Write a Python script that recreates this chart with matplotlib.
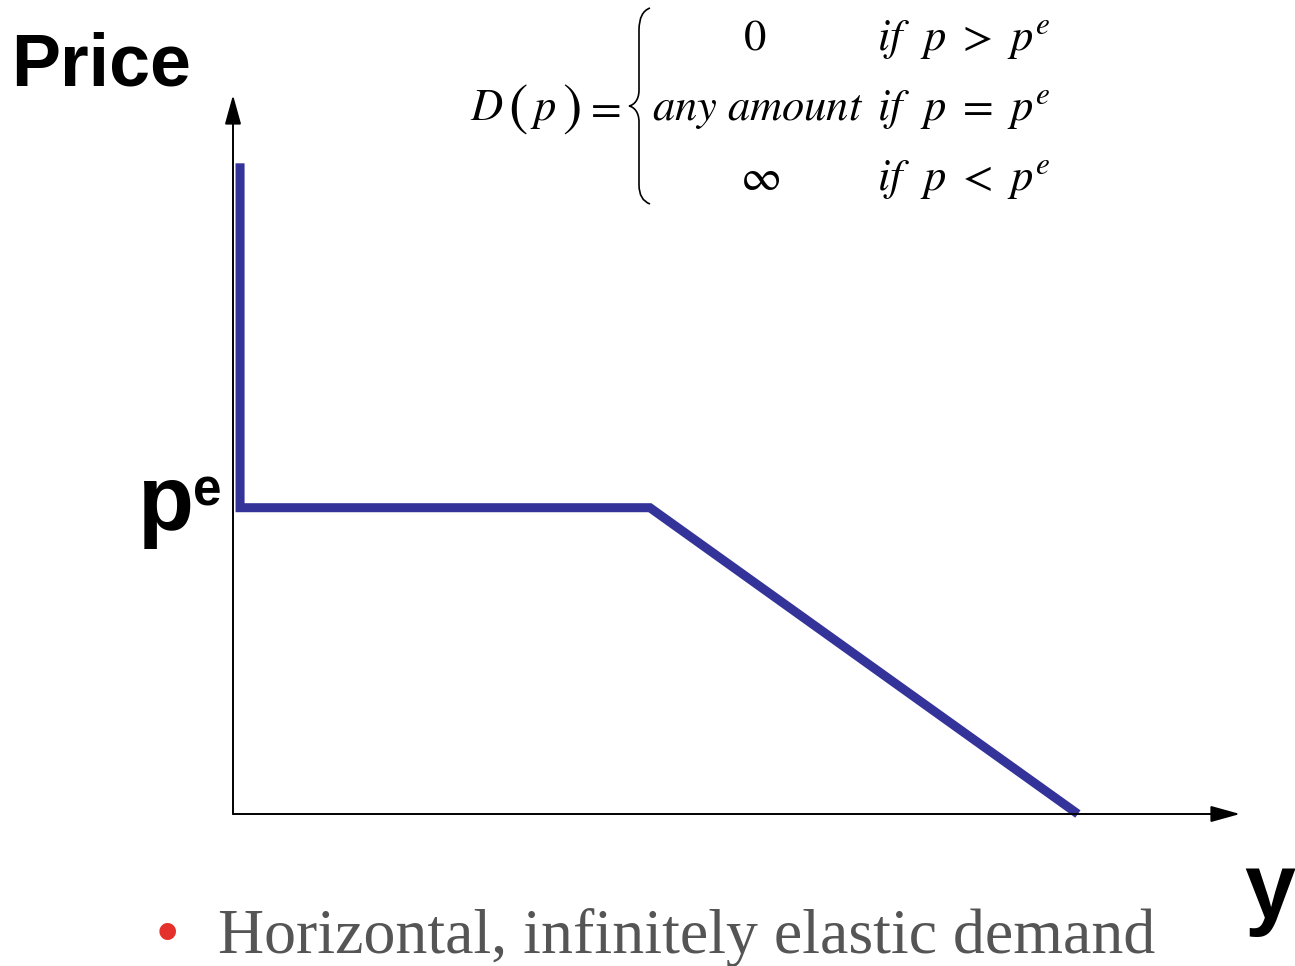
import matplotlib
matplotlib.use("Agg")
import matplotlib.pyplot as plt
from matplotlib.path import Path
from matplotlib.patches import PathPatch

# ---- data (in axis units, 0..100) ----
curve_x = [0.7, 0.7, 41.4, 83.9]
curve_y = [90.5, 42.6, 42.6, 0.0]
pe_level = 42.6

y_label = "Price"
x_label = "y"
pe_main = "p"
pe_sup = "e"
bullet_text = "Horizontal, infinitely elastic demand"
eq_values = [r"$0$", r"$any\ amount$", r"$\infty$"]
eq_conditions = [r"$if\ \ p\ >\ p^{e}$", r"$if\ \ p\ =\ p^{e}$", r"$if\ \ p\ <\ p^{e}$"]

W, H = 1295, 966
fig = plt.figure(figsize=(W / 100, H / 100), dpi=100)
plt.rcParams["mathtext.fontset"] = "stix"


def fx(px):
    return px / W


def fy(py):
    return 1 - py / H


ax = fig.add_axes([fx(233), fy(814), fx(1240) - fx(233), fy(95) - fy(814)])
ax.set_xlim(0, 100)
ax.set_ylim(0, 100)
ax.axis("off")

# axes with arrows
arrow = dict(arrowstyle="-|>,head_length=0.9,head_width=0.25", color="black",
             lw=1.4, mutation_scale=20, shrinkA=0, shrinkB=0)
ax.annotate("", xy=(1, 0), xytext=(0, 0), xycoords="axes fraction", arrowprops=arrow)
ax.annotate("", xy=(0, 1), xytext=(0, 0), xycoords="axes fraction", arrowprops=arrow)

# demand curve
ax.plot(curve_x, curve_y, color="#333399", lw=6.5, solid_joinstyle="miter",
        solid_capstyle="butt", clip_on=False)

# labels
fig.text(fx(11), fy(85), y_label, fontsize=53, fontweight="bold",
         family="Liberation Sans", va="baseline", ha="left")
fig.text(fx(138), fy(530), pe_main, fontsize=66, fontweight="bold",
         family="Liberation Sans", va="baseline", ha="left")
fig.text(fx(193), fy(505), pe_sup, fontsize=37, fontweight="bold",
         family="Liberation Sans", va="baseline", ha="left")
fig.text(fx(1244), fy(918), x_label, fontsize=66, fontweight="bold",
         family="Liberation Sans", va="baseline", ha="left")

# equation: left-hand side
fig.text(fx(470), fy(120), r"$D$", fontsize=32, va="baseline", ha="left")
fig.text(fx(508), fy(124), r"$($", fontsize=42, va="baseline", ha="left")
fig.text(fx(530), fy(120), r"$p$", fontsize=32, va="baseline", ha="left")
fig.text(fx(562), fy(124), r"$)$", fontsize=42, va="baseline", ha="left")
fig.text(fx(584), fy(120), r"$=$", fontsize=32, va="baseline", ha="left")

rows_y = [50, 120, 190]
val_x = [755, 652, 760]
val_ha = ["center", "left", "center"]
for v, c, ry, vx, vha in zip(eq_values, eq_conditions, rows_y, val_x, val_ha):
    fig.text(fx(vx), fy(ry), v, fontsize=32, va="baseline", ha=vha)
    fig.text(fx(877), fy(ry), c, fontsize=32, va="baseline", ha="left")

# brace
verts = [(fx(650), fy(8)), (fx(639), fy(12)), (fx(639), fy(30)),
         (fx(639), fy(90)),
         (fx(639), fy(100)), (fx(634), fy(105)), (fx(629), fy(106)),
         (fx(634), fy(107)), (fx(639), fy(112)), (fx(639), fy(122)),
         (fx(639), fy(185)),
         (fx(639), fy(200)), (fx(650), fy(204))]
codes = [Path.MOVETO, Path.CURVE3, Path.CURVE3, Path.LINETO,
         Path.CURVE4, Path.CURVE4, Path.CURVE4,
         Path.CURVE4, Path.CURVE4, Path.CURVE4,
         Path.LINETO, Path.CURVE3, Path.CURVE3]
fig.patches.append(PathPatch(Path(verts, codes), transform=fig.transFigure,
                             facecolor="none", edgecolor="black", lw=1.2))

# bullet text
fig.text(fx(157), fy(952), "\u2022", fontsize=44, color="#e5312b",
         family="Liberation Sans", va="baseline", ha="left")
fig.text(fx(218), fy(953), bullet_text, fontsize=46, color="#555555",
         family="Liberation Serif", va="baseline", ha="left")

fig.savefig("out.png", dpi=100)
